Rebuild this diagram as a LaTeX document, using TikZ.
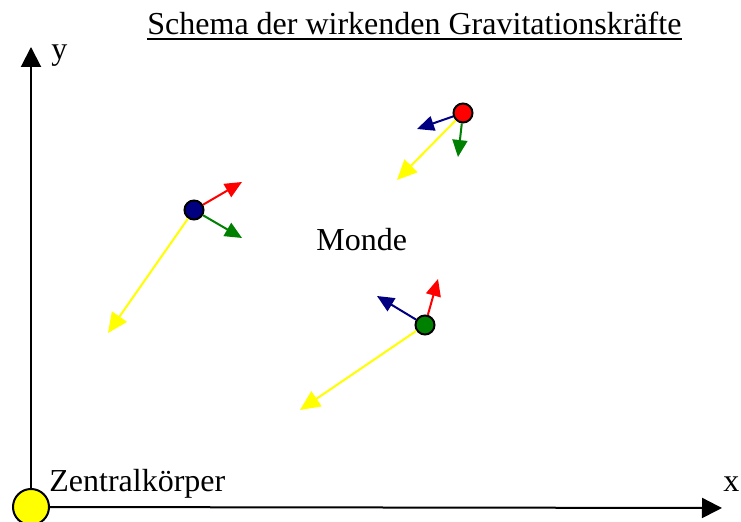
\documentclass[tikz,border=0pt]{standalone}
\usepackage{fontspec}
\setmainfont{Liberation Serif}
\usetikzlibrary{arrows.meta}
\definecolor{navy}{RGB}{0,0,128}
\definecolor{dgreen}{RGB}{0,128,0}
\definecolor{yel}{RGB}{255,255,0}
\begin{document}
\begin{tikzpicture}[x=0.5pt,y=-0.5pt,
  txt/.style={font=\fontsize{16}{19}\selectfont, inner sep=0pt, anchor=base west},
  moon/.style={circle, draw=black, line width=1pt, minimum size=9.5pt, inner sep=0pt},
  force/.style={line width=1pt, -{Triangle[length=8.5pt,width=7.5pt]}},
  grav/.style={line width=1pt, draw=yel, -{Triangle[length=10pt,width=9pt]}},
  axis/.style={line width=1pt, -{Triangle[length=10pt,width=10pt]}}]
\useasboundingbox (0,0) rectangle (741,522);

% central body and axes
\node[circle, draw=black, fill=yel, line width=1pt, minimum size=18pt, inner sep=0pt] (sun) at (31,507) {};
\coordinate (ytip) at (31,47);
\coordinate (xtip) at (722,508);
\draw[axis] (sun) -- (ytip);
\draw[axis] (sun) -- (xtip);

% labels
\node[txt] (title) at (147,35) {Schema der wirkenden Gravitationskräfte};
\draw[line width=1pt] ([yshift=-2pt]title.base west) -- ([yshift=-2pt]title.base east);
\node[txt] (ylab) at (51,60) {y};
\node[txt] (xlab) at (723,492) {x};
\node[txt] (zk) at (49,492) {Zentralkörper};
\node[txt] (monde) at (316,251) {Monde};

% moons
\node[moon, fill=navy] (mb) at (194,210) {};
\node[moon, fill=red] (mr) at (463,113) {};
\node[moon, fill=dgreen] (mg) at (425,325) {};

% tips
\coordinate (mbR) at (242,182);
\coordinate (mbG) at (242,238);
\coordinate (mbY) at (108,333);
\coordinate (mrB) at (417,129);
\coordinate (mrG) at (458,157);
\coordinate (mrY) at (397,180);
\coordinate (mgR) at (438,279);
\coordinate (mgB) at (377,296);
\coordinate (mgY) at (300,410);

% forces
\draw[force, draw=red, fill=red] (mb) -- (mbR);
\draw[force, draw=dgreen, fill=dgreen] (mb) -- (mbG);
\draw[grav, fill=yel] (mb) -- (mbY);

\draw[force, draw=navy, fill=navy] (mr) -- (mrB);
\draw[force, draw=dgreen, fill=dgreen] (mr) -- (mrG);
\draw[grav, fill=yel] (mr) -- (mrY);

\draw[force, draw=red, fill=red] (mg) -- (mgR);
\draw[force, draw=navy, fill=navy] (mg) -- (mgB);
\draw[grav, fill=yel] (mg) -- (mgY);
\end{tikzpicture}
\end{document}
